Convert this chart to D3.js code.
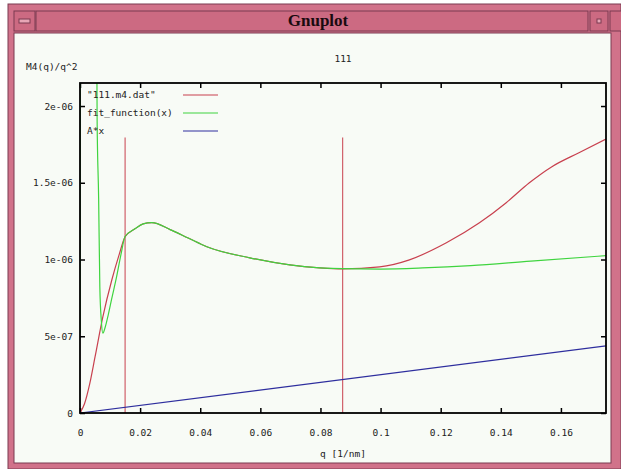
<!DOCTYPE html>
<html>
<head>
<meta charset="utf-8">
<script src="https://cdn.jsdelivr.net/npm/d3@7"></script>
<style>
  body { margin: 0; background: #fff; }
  svg { display: block; }
  .tick text { font-family: "DejaVu Sans Mono", monospace; font-size: 9.5px; fill: #222; }
  .lbl { font-family: "DejaVu Sans Mono", monospace; font-size: 9.5px; fill: #222; }
</style>
</head>
<body>
<svg id="chart" width="621" height="469"></svg>
<script>
// measured curve "111.m4.dat"
const datQ   = [0, 0.0015, 0.0033, 0.005, 0.0076, 0.0106, 0.013, 0.015, 0.0183, 0.021, 0.0239, 0.03, 0.036, 0.0422, 0.0565, 0.0698, 0.0797, 0.0874, 0.0997, 0.1096, 0.1219, 0.1329, 0.1418, 0.1495, 0.157, 0.166, 0.175];
const datVal = [0, 0.06e-6, 0.196e-6, 0.365e-6, 0.626e-6, 0.868e-6, 1.03e-6, 1.148e-6, 1.2e-6, 1.232e-6, 1.24e-6, 1.195e-6, 1.14e-6, 1.083e-6, 1.011e-6, 0.965e-6, 0.946e-6, 0.939e-6, 0.952e-6, 0.998e-6, 1.109e-6, 1.239e-6, 1.37e-6, 1.5e-6, 1.605e-6, 1.696e-6, 1.785e-6];

// fit_function(x), goes off the top near the origin
const fitQ   = [0, 0.0001, 0.0054, 0.0057, 0.0062, 0.0066, 0.0071, 0.0076, 0.0084, 0.0094, 0.0105, 0.0122, 0.0136, 0.015, 0.0183, 0.021, 0.0239, 0.03, 0.036, 0.0422, 0.0565, 0.0698, 0.0797, 0.0874, 0.1, 0.114, 0.13, 0.15, 0.175];
const fitVal = [0.52e-6, 3e-6, 3e-6, 1.9e-6, 1.4e-6, 0.82e-6, 0.6e-6, 0.52e-6, 0.56e-6, 0.64e-6, 0.74e-6, 0.89e-6, 1.03e-6, 1.15e-6, 1.2e-6, 1.232e-6, 1.24e-6, 1.195e-6, 1.14e-6, 1.083e-6, 1.011e-6, 0.965e-6, 0.946e-6, 0.94e-6, 0.938e-6, 0.945e-6, 0.96e-6, 0.99e-6, 1.025e-6];

// A*x
const linQ   = [0, 0.175];
const linVal = [0, 4.37e-7];

// fit range markers
const markerQ   = [0.015, 0.0874];
const markerTop = 1.795e-6;

const xTicks      = [0, 0.02, 0.04, 0.06, 0.08, 0.1, 0.12, 0.14, 0.16];
const xTickLabels = ['0', '0.02', '0.04', '0.06', '0.08', '0.1', '0.12', '0.14', '0.16'];
const yTicks      = [0, 5e-7, 1e-6, 1.5e-6, 2e-6];
const yTickLabels = ['0', '5e-07', '1e-06', '1.5e-06', '2e-06'];

const legendNames = ['"111.m4.dat"', 'fit_function(x)', 'A*x'];
const colors = ['#c8404e', '#3fd43f', '#2e2e9e'];

const svg = d3.select('#chart');

// ---- window chrome ----
const pink = '#d1728a', dark = '#7a3a50', light = '#e7a6b6';
svg.append('rect').attr('x', 8).attr('y', 4).attr('width', 613).attr('height', 465)
   .attr('fill', pink).attr('stroke', dark);
svg.append('rect').attr('x', 14).attr('y', 33).attr('width', 597).attr('height', 430)
   .attr('fill', '#f8fbf6').attr('stroke', dark);
// title bar
svg.append('rect').attr('x', 36).attr('y', 11).attr('width', 552).attr('height', 20)
   .attr('fill', '#cc6a82').attr('stroke', dark);
svg.append('rect').attr('x', 14).attr('y', 11).attr('width', 21).attr('height', 20)
   .attr('fill', '#cc6a82').attr('stroke', dark);
svg.append('rect').attr('x', 19).attr('y', 19).attr('width', 11).attr('height', 4)
   .attr('fill', light).attr('stroke', dark);
svg.append('rect').attr('x', 590).attr('y', 11).attr('width', 18).attr('height', 20)
   .attr('fill', '#cc6a82').attr('stroke', dark);
svg.append('rect').attr('x', 597).attr('y', 19).attr('width', 4).attr('height', 4)
   .attr('fill', light).attr('stroke', dark);
svg.append('rect').attr('x', 610).attr('y', 11).attr('width', 14).attr('height', 20)
   .attr('fill', '#cc6a82').attr('stroke', dark);
svg.append('text').attr('x', 318).attr('y', 26).attr('text-anchor', 'middle')
   .style('font-family', '"Liberation Serif", serif').style('font-weight', 'bold')
   .style('font-size', '17px').attr('fill', '#1a0a10').text('Gnuplot');

// ---- plot ----
const x = d3.scaleLinear().domain([0, 0.175]).range([80, 606]);
const y = d3.scaleLinear().domain([0, 2.15e-6]).range([413, 83]);

const plot = svg.append('g');

plot.append('g')
    .attr('transform', `translate(0, ${y(0)})`)
    .call(d3.axisBottom(x).tickValues(xTicks).tickFormat((d, i) => xTickLabels[i])
            .tickSize(-5).tickPadding(16))
    .call(g => g.select('.domain').remove());
plot.append('g')
    .attr('transform', `translate(0, ${y.range()[1]})`)
    .call(d3.axisTop(x).tickValues(xTicks).tickFormat('').tickSize(-5))
    .call(g => g.select('.domain').remove());
plot.append('g')
    .attr('transform', `translate(${x(0)}, 0)`)
    .call(d3.axisLeft(y).tickValues(yTicks).tickFormat((d, i) => yTickLabels[i])
            .tickSize(-5).tickPadding(7))
    .call(g => g.select('.domain').remove());
plot.append('g')
    .attr('transform', `translate(${x.range()[1]}, 0)`)
    .call(d3.axisRight(y).tickValues(yTicks).tickFormat('').tickSize(-5))
    .call(g => g.select('.domain').remove());
plot.selectAll('.tick line').attr('stroke', '#000').attr('stroke-width', 1.5);

svg.append('clipPath').attr('id', 'clip')
   .append('rect').attr('x', 80).attr('y', 83).attr('width', 526).attr('height', 330);

const lines = plot.append('g').attr('clip-path', 'url(#clip)');
const line = d3.line().x(d => x(d[0])).y(d => y(d[1])).curve(d3.curveMonotoneX);

lines.selectAll('.marker').data(markerQ).join('line')
     .attr('x1', d => x(d)).attr('x2', d => x(d))
     .attr('y1', y(0)).attr('y2', y(markerTop))
     .attr('stroke', colors[0]).attr('stroke-width', 1);

const series = [
  d3.zip(datQ, datVal),
  d3.zip(fitQ, fitVal),
  d3.zip(linQ, linVal)
];
lines.selectAll('.series').data(series).join('path')
     .attr('d', line).attr('fill', 'none')
     .attr('stroke', (d, i) => colors[i]).attr('stroke-width', 1.2);

plot.append('rect').attr('x', 80).attr('y', 83).attr('width', 526).attr('height', 330)
    .attr('fill', 'none').attr('stroke', '#000').attr('stroke-width', 1.8);

// legend
const legend = plot.append('g');
legendNames.forEach((name, i) => {
  legend.append('text').attr('class', 'lbl').attr('x', 87).attr('y', 98 + i * 18).text(name);
  legend.append('line').attr('x1', 183).attr('x2', 218)
        .attr('y1', 95 + i * 18).attr('y2', 95 + i * 18)
        .attr('stroke', colors[i]).attr('stroke-width', 1.2);
});

// titles
svg.append('text').attr('class', 'lbl').attr('x', 343).attr('y', 62)
   .attr('text-anchor', 'middle').text('111');
svg.append('text').attr('class', 'lbl').attr('x', 26).attr('y', 70).text('M4(q)/q^2');
svg.append('text').attr('class', 'lbl').attr('x', 343).attr('y', 457)
   .attr('text-anchor', 'middle').text('q [1/nm]');
</script>
</body>
</html>
